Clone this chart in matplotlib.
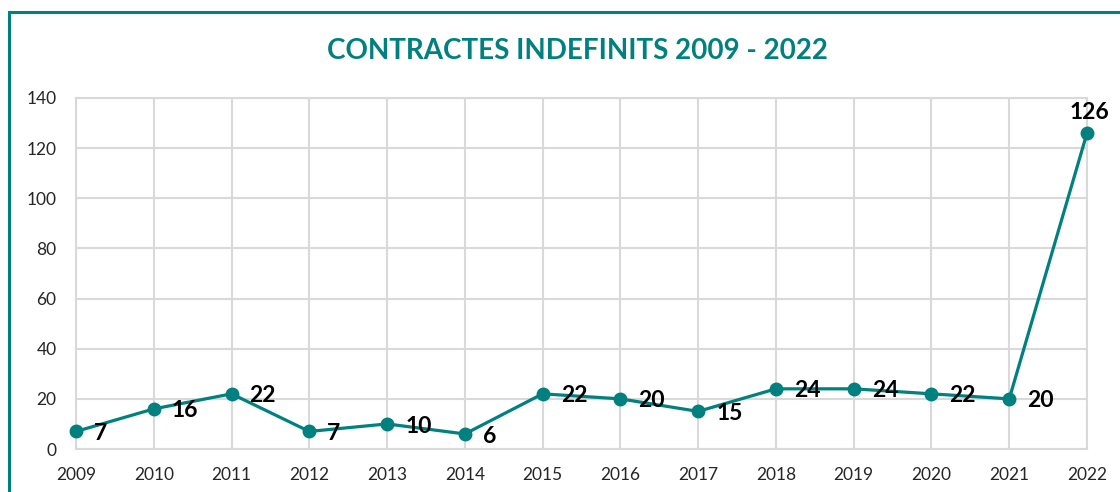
import matplotlib
matplotlib.use("Agg")
import matplotlib.pyplot as plt
from matplotlib.patches import Rectangle

years = [2009, 2010, 2011, 2012, 2013, 2014, 2015, 2016, 2017, 2018, 2019, 2020, 2021, 2022]
values = [7, 16, 22, 7, 10, 6, 22, 20, 15, 24, 24, 22, 20, 126]
title = "CONTRACTES INDEFINITS 2009 - 2022"

TEAL = "#00807F"
GRID = "#D9D9D9"
FONT = ["Lato", "DejaVu Sans"]
plt.rcParams["font.family"] = FONT

fig = plt.figure(figsize=(11.2, 4.92), dpi=100)
ax = fig.add_axes([76 / 1120, 1 - 449 / 492, (1087 - 76) / 1120, (449 - 98) / 492])

# outer frame (left and top visible)
fig.patches.append(Rectangle((9 / 1120, -0.1), 1.2, (492 - 12) / 492 + 0.1,
                             transform=fig.transFigure, fill=False,
                             edgecolor=TEAL, linewidth=2.2, zorder=0))

x = list(range(len(years)))
ax.plot(x, values, color=TEAL, linewidth=2.3, marker="o", markersize=9,
        markerfacecolor=TEAL, markeredgecolor=TEAL, zorder=3, clip_on=False)

for i, v in enumerate(values):
    if i == len(values) - 1:
        ax.annotate(str(v), (i, v), xytext=(2, 7), textcoords="offset points",
                    ha="center", va="bottom", fontsize=16.5, fontweight="bold",
                    color="black", annotation_clip=False)
    else:
        ax.annotate(str(v), (i, v), xytext=(13, -1.5), textcoords="offset points",
                    ha="left", va="center", fontsize=16.5, fontweight="bold",
                    color="black", annotation_clip=False)

ax.set_xlim(0, len(years) - 1)
ax.set_ylim(0, 140)
ax.set_yticks(range(0, 141, 20))
ax.set_xticks(x)
ax.set_xticklabels([str(y) for y in years])
ax.grid(True, color=GRID, linewidth=1.5)
ax.set_axisbelow(True)
for s in ax.spines.values():
    s.set_color(GRID)
    s.set_linewidth(1.5)
ax.tick_params(axis="both", length=0, labelsize=12.5, colors="#262626")
ax.tick_params(axis="x", pad=13)
ax.tick_params(axis="y", pad=14)

fig.text(577 / 1120, 1 - 51 / 492, title, ha="center", va="center",
         fontsize=20, fontweight="bold", color=TEAL)

fig.savefig("out.png", dpi=100, facecolor="white")
